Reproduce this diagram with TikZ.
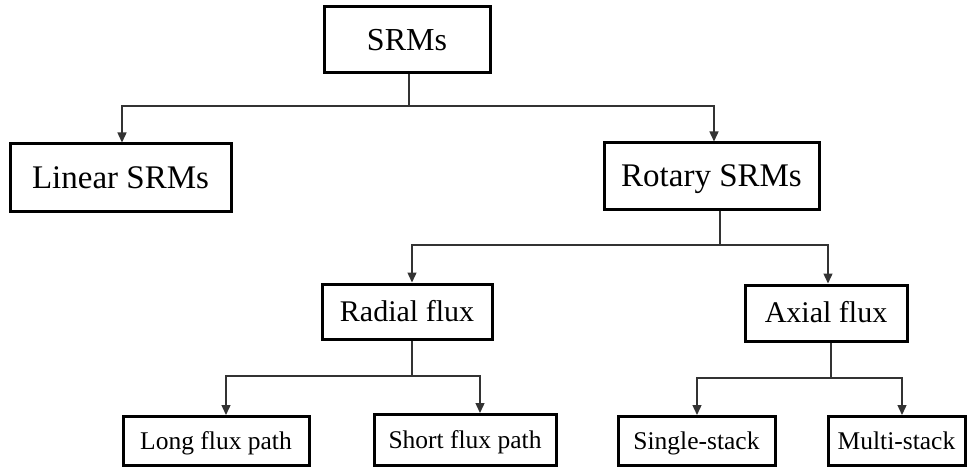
\documentclass[tikz,border=0pt]{standalone}
\usepackage{fontspec}
\setmainfont{Liberation Serif}
\usetikzlibrary{arrows.meta}
\begin{document}
\begin{tikzpicture}[x=1pt,y=-1pt,
  box/.style={draw=black,line width=3pt,fill=white,inner sep=0pt,anchor=center,text depth=0pt},
  big/.style={box,font=\fontsize{33}{38}\selectfont,text height=21.8pt},
  mid/.style={box,font=\fontsize{30}{35}\selectfont,text height=19.8pt},
  small/.style={box,font=\fontsize{25.5}{30}\selectfont,text height=16.8pt},
  conn/.style={draw=black!80,line width=1.4pt},
  arr/.style={conn,-{Triangle[length=10pt,width=9pt]}}]
\useasboundingbox (0,0) rectangle (967,468);
\node[big,font=\fontsize{32}{38}\selectfont,text height=21.1pt,minimum width=166pt,minimum height=66pt] (srms) at (407,40) {SRMs};
\node[big,minimum width=221pt,minimum height=67pt] (linear) at (120.5,177.5) {Linear SRMs};
\node[big,minimum width=215pt,minimum height=66pt] (rotary) at (711.5,176) {Rotary SRMs};
\node[mid,minimum width=170pt,minimum height=55pt] (radial) at (407,311.5) {Radial flux};
\node[mid,minimum width=162pt,minimum height=56pt] (axial) at (826,313) {Axial flux};
\node[small,minimum width=186pt,minimum height=49pt] (long) at (216,441) {Long flux path};
\node[small,minimum width=182pt,minimum height=51pt] (short) at (465,440) {Short flux path};
\node[small,minimum width=157pt,minimum height=49pt] (single) at (696.5,441) {Single-stack};
\node[small,minimum width=137pt,minimum height=49pt] (multi) at (896.5,441) {Multi-stack};
% level 1
\coordinate (j1) at (409,106);
\draw[conn] ([xshift=2pt]srms.south) -- (j1);
\draw[arr] (j1) -| ([xshift=1.5pt]linear.north);
\draw[arr] (j1) -| ([xshift=2.5pt]rotary.north);
% level 2
\coordinate (j2) at (720,245);
\draw[conn] ([xshift=8.5pt]rotary.south) -- (j2);
\draw[arr] (j2) -| ([xshift=5pt]radial.north);
\draw[arr] (j2) -| ([xshift=2pt]axial.north);
% level 3 left
\coordinate (j3) at (412,376);
\draw[conn] ([xshift=5pt]radial.south) -- (j3);
\draw[arr] (j3) -| ([xshift=10pt]long.north);
\draw[arr] (j3) -| ([xshift=15pt]short.north);
% level 3 right
\coordinate (j4) at (831,378);
\draw[conn] ([xshift=5pt]axial.south) -- (j4);
\draw[arr] (j4) -| ([xshift=0.5pt]single.north);
\draw[arr] (j4) -| ([xshift=5.5pt]multi.north);
\end{tikzpicture}
\end{document}
